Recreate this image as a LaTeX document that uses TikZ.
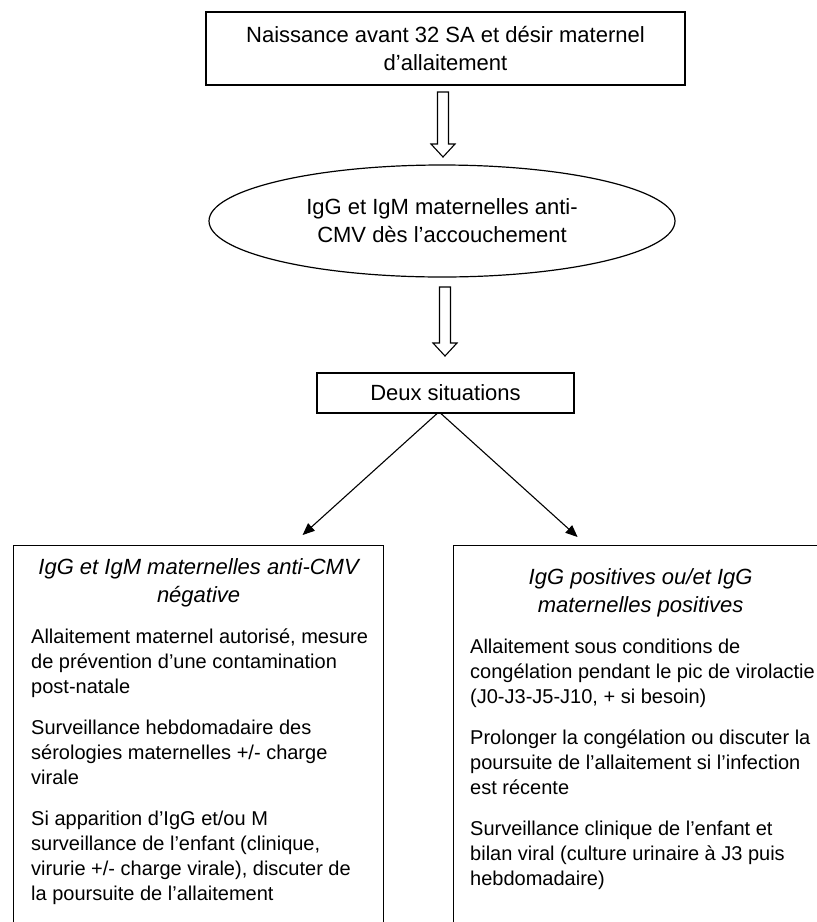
\documentclass[tikz,border=0pt]{standalone}
\usepackage{fontspec}
\setmainfont{Liberation Sans}
\usetikzlibrary{shapes.geometric,arrows.meta,positioning}

\tikzset{
  box/.style={draw, line width=1.2pt, rectangle, align=center, font=\fontsize{22}{28}\selectfont, inner sep=0pt},
  panel/.style={draw, line width=1.2pt, rectangle, inner sep=0pt, anchor=north west},
  paneltitle/.style={align=center, font=\fontsize{22}{28}\selectfont\itshape, inner sep=0pt},
  panelbody/.style={align=left, font=\fontsize{20}{25}\selectfont, inner sep=0pt, anchor=north west},
  hollow/.style={draw, line width=1.1pt, fill=white, line join=miter},
  branch/.style={line width=1.1pt, -{Triangle[length=12pt,width=10pt]}}
}

\begin{document}
\begin{tikzpicture}[x=1pt,y=-1pt]
\useasboundingbox (0,0) rectangle (817,922);
\clip (0,0) rectangle (817,922);

% Birth condition, serology and the split into two cases
\node [box, minimum width=479pt, minimum height=73pt] (birth) at (445.5,48.5) {Naissance avant 32 SA et désir maternel\\d’allaitement};
\node [box, ellipse, minimum width=466pt, minimum height=112pt] (serology) at (442,221) {IgG et IgM maternelles anti-\\CMV dès l’accouchement};
\node [box, minimum width=257pt, minimum height=40pt] (cases) at (445.5,393) {Deux situations};

% Hollow arrows going down, one below each of the first two nodes
\coordinate (h1) at (443,92);
\coordinate (h2) at (445,287);
\foreach \pt/\len in {h1/65,h2/69}
	\draw [hollow] (\pt) ++(-5.5,0) -- ++(0,\len-13) -- ++(-6.5,0) -- ++(12,13) -- ++(12,-13) -- ++(-6.5,0) -- ++(0,13-\len) -- cycle;

% The two panels, running past the bottom edge
\node [panel, minimum width=370pt, minimum height=420pt] (neg) at (13,545) {};
\node [panel, minimum width=374pt, minimum height=420pt] (pos) at (453,545) {};

% Titles of the panels
\node [paneltitle] (negtitle) at ([yshift=-38pt]neg.north) {IgG et IgM maternelles anti-CMV\\négative};
\node [paneltitle] (postitle) at ([yshift=-48pt]pos.north) {IgG positives ou/et IgG\\maternelles positives};

% What to do in each case
\node [panelbody] (negbody) at ([xshift=18pt,yshift=-84pt]neg.north west) {Allaitement maternel autorisé, mesure\\de prévention d’une contamination\\post-natale\\[16pt]Surveillance hebdomadaire des\\sérologies maternelles +/- charge\\virale\\[16pt]Si apparition d’IgG et/ou M\\surveillance de l’enfant (clinique,\\virurie +/- charge virale), discuter de\\la poursuite de l’allaitement};
\node [panelbody] (posbody) at ([xshift=17pt,yshift=-94pt]pos.north west) {Allaitement sous conditions de\\congélation pendant le pic de virolactie\\(J0-J3-J5-J10, + si besoin)\\[16pt]Prolonger la congélation ou discuter la\\poursuite de l’allaitement si l’infection\\est récente\\[16pt]Surveillance clinique de l’enfant et\\bilan viral (culture urinaire à J3 puis\\hebdomadaire)};

% Branches from the two cases to the panels
\draw [branch] ([xshift=-8.5pt]cases.south) -- ([xshift=104pt,yshift=10pt]neg.north);
\draw [branch] ([xshift=-4.5pt]cases.south) -- ([xshift=-63pt,yshift=8pt]pos.north);

\end{tikzpicture}
\end{document}
